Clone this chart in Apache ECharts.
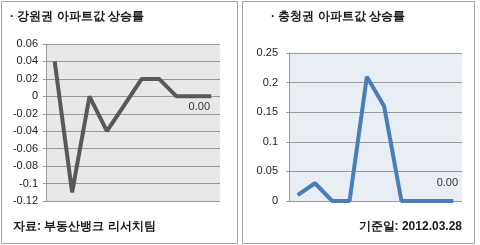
<!DOCTYPE html>
<html><head><meta charset="utf-8">
<script src="https://cdn.jsdelivr.net/npm/echarts@6/dist/echarts.min.js"></script>
<style>html,body{margin:0;padding:0;background:#fff;}#c{width:480px;height:245px;}</style>
</head><body><div id="c"></div>
<script>
var categories = ['1','2','3','4','5','6','7','8','9','10'];
var gangwonValues = [0.04, -0.11, 0, -0.04, -0.01, 0.02, 0.02, 0, 0, 0];
var chungcheongValues = [0.01, 0.03, 0, 0, 0.21, 0.16, 0, 0, 0, 0];
var leftTitle = '· 강원권 아파트값 상승률';
var rightTitle = '· 충청권 아파트값 상승률';
var sourceText = '자료: 부동산뱅크 리서치팀';
var dateText = '기준일: 2012.03.28';
var lastLabel = '0.00';

var FONT = '"Noto Sans CJK KR", "Noto Sans", sans-serif';
function fmt(v){ return String(Number(v.toFixed(2))); }
function withLast(arr, pos, dist, dx){
  return arr.map(function(v,i){
    if(i===arr.length-1) return {value:v,symbol:'circle',symbolSize:1,itemStyle:{color:'transparent',borderWidth:0},
      label:{show:true,position:pos,distance:dist,offset:[dx,0],formatter:lastLabel,color:'#333',fontSize:11,fontFamily:'"Liberation Sans", Arial, sans-serif'}};
    return {value:v,symbol:'none'};
  });
}
var chart = echarts.init(document.getElementById('c'), null, {renderer:'canvas'});
var yCommon = function(min,max,interval,margin){
  return {type:'value',min:min,max:max,interval:interval,
    axisLine:{show:true,lineStyle:{color:'#9a9a9a',width:1}},
    axisTick:{show:true,length:3,lineStyle:{color:'#9a9a9a'}},
    axisLabel:{formatter:fmt,color:'#222',fontSize:11,fontFamily:'"Liberation Sans", Arial, sans-serif',margin:margin},
    splitLine:{show:true,lineStyle:{color:'#9a9a9a',width:1}}};
};
chart.setOption({
  animation:false,
  graphic:[
    {type:'rect',shape:{x:1.5,y:1.5,width:236,height:242},style:{fill:'none',stroke:'#a6a6a6',lineWidth:1}},
    {type:'rect',shape:{x:242.5,y:1.5,width:232,height:242},style:{fill:'none',stroke:'#a6a6a6',lineWidth:1}},
    {type:'text',left:10,top:11,style:{text:leftTitle,font:'12px '+FONT,fill:'#1a1a1a',fontWeight:'bold'}},
    {type:'text',left:271,top:11,style:{text:rightTitle,font:'12px '+FONT,fill:'#1a1a1a',fontWeight:'bold'}},
    {type:'text',left:13,top:221,style:{text:sourceText,font:'12px '+FONT,fill:'#1a1a1a',fontWeight:'bold'}},
    {type:'text',right:18,top:221,style:{text:dateText,font:'12px '+FONT,fill:'#1a1a1a',fontWeight:'bold'}}
  ],
  grid:[
    {left:46,right:260,top:44,bottom:44,show:true,backgroundColor:'#e8e8e8',borderWidth:0},
    {left:289,right:18,top:53,bottom:44,show:true,backgroundColor:'#e9edf4',borderWidth:0}
  ],
  xAxis:[
    {type:'category',gridIndex:0,data:categories,boundaryGap:true,axisLine:{show:false},axisTick:{show:false},axisLabel:{show:false}},
    {type:'category',gridIndex:1,data:categories,boundaryGap:true,axisLine:{show:false},axisTick:{show:false},axisLabel:{show:false}}
  ],
  yAxis:[
    Object.assign({gridIndex:0},yCommon(-0.12,0.06,0.02,8)),
    Object.assign({gridIndex:1},yCommon(0,0.25,0.05,11))
  ],
  series:[
    {type:'line',xAxisIndex:0,yAxisIndex:0,data:withLast(gangwonValues,'bottom',5,-12),showAllSymbol:true,lineStyle:{color:'#595959',width:4},z:3},
    {type:'line',xAxisIndex:1,yAxisIndex:1,data:withLast(chungcheongValues,'top',12,-6),showAllSymbol:true,lineStyle:{color:'#4a7ebb',width:4},z:3}
  ]
});
</script></body></html>
